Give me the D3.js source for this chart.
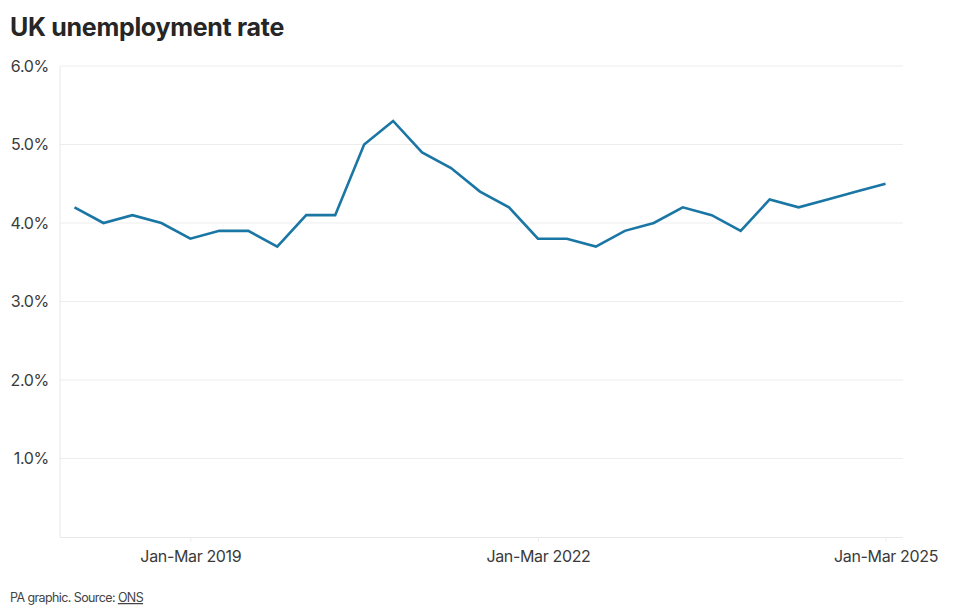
<!DOCTYPE html>
<html>
<head>
<meta charset="utf-8">
<script src="https://cdn.jsdelivr.net/npm/d3@7"></script>
<style>
  html, body { margin: 0; padding: 0; background: #fff; }
  svg { display: block; font-family: Inter, "Noto Sans", sans-serif; }
</style>
</head>
<body>
<svg id="chart" width="960" height="611"></svg>
<script>
const title = "UK unemployment rate";
const source = "PA graphic. Source: ";
const sourceLink = "ONS";
const quarters = [
  "Jan-Mar 2018","Apr-Jun 2018","Jul-Sep 2018","Oct-Dec 2018",
  "Jan-Mar 2019","Apr-Jun 2019","Jul-Sep 2019","Oct-Dec 2019",
  "Jan-Mar 2020","Apr-Jun 2020","Jul-Sep 2020","Oct-Dec 2020",
  "Jan-Mar 2021","Apr-Jun 2021","Jul-Sep 2021","Oct-Dec 2021",
  "Jan-Mar 2022","Apr-Jun 2022","Jul-Sep 2022","Oct-Dec 2022",
  "Jan-Mar 2023","Apr-Jun 2023","Jul-Sep 2023","Oct-Dec 2023",
  "Jan-Mar 2024","Apr-Jun 2024","Jul-Sep 2024","Oct-Dec 2024",
  "Jan-Mar 2025"
];
const rates = [
  4.2, 4.0, 4.1, 4.0,
  3.8, 3.9, 3.9, 3.7,
  4.1, 4.1, 5.0, 5.3,
  4.9, 4.7, 4.4, 4.2,
  3.8, 3.8, 3.7, 3.9,
  4.0, 4.2, 4.1, 3.9,
  4.3, 4.2, 4.3, 4.4,
  4.5
];
const xTickLabels = ["Jan-Mar 2019", "Jan-Mar 2022", "Jan-Mar 2025"];
const yTicks = [1, 2, 3, 4, 5, 6];

const svg = d3.select("#chart");
const mLeft = 60, mRight = 903, mTop = 66, mBottom = 537;

const x = d3.scalePoint().domain(quarters).range([mLeft, 900]).padding(0.5);
const y = d3.scaleLinear().domain([0, 6]).range([mBottom, mTop]);

// title
svg.append("text").attr("x", 10).attr("y", 36)
  .attr("font-size", 25).attr("font-weight", 700).attr("fill", "#262626")
  .attr("letter-spacing", -0.3).text(title);

// gridlines
svg.append("g").selectAll("line").data(yTicks).join("line")
  .attr("x1", mLeft).attr("x2", mRight)
  .attr("y1", d => y(d)).attr("y2", d => y(d))
  .attr("stroke", "#ededed").attr("stroke-width", 1);

// y-axis line
svg.append("line").attr("x1", mLeft).attr("x2", mLeft)
  .attr("y1", mTop).attr("y2", mBottom)
  .attr("stroke", "#e8e8e8").attr("stroke-width", 1);

// bottom axis
const xAxis = d3.axisBottom(x).tickValues(xTickLabels).tickSize(5).tickPadding(9);
const gx = svg.append("g").attr("transform", `translate(0,${mBottom})`).call(xAxis);
gx.select(".domain").attr("d", `M${mLeft},0.5H${mRight}`).attr("stroke", "#e8e8e8");
gx.selectAll(".tick line").attr("stroke", "#ececec");
gx.selectAll(".tick text").attr("font-size", 16).attr("fill", "#3a3a3a")
  .attr("font-family", "Inter, sans-serif").attr("letter-spacing", -0.35);

// y labels
const yAxis = d3.axisLeft(y).tickValues(yTicks).tickSize(0).tickPadding(11)
  .tickFormat(d => d3.format(".1f")(d) + "%");
const gy = svg.append("g").attr("transform", `translate(${mLeft},0)`).call(yAxis);
gy.select(".domain").remove();
gy.selectAll(".tick text").attr("font-size", 16).attr("fill", "#3a3a3a")
  .attr("font-family", "Inter, sans-serif").attr("letter-spacing", -0.3);

// line
const line = d3.line().x((d, i) => x(quarters[i])).y(d => y(d));
svg.append("path").datum(rates)
  .attr("fill", "none").attr("stroke", "#1a76a4").attr("stroke-width", 2.6)
  .attr("stroke-linejoin", "miter").attr("d", line);

// footer
const foot = svg.append("text").attr("x", 10).attr("y", 602)
  .attr("font-size", 12.5).attr("fill", "#444").attr("letter-spacing", -0.6);
foot.append("tspan").text(source);
foot.append("tspan").attr("text-decoration", "underline").text(sourceLink);
</script>
</body>
</html>
